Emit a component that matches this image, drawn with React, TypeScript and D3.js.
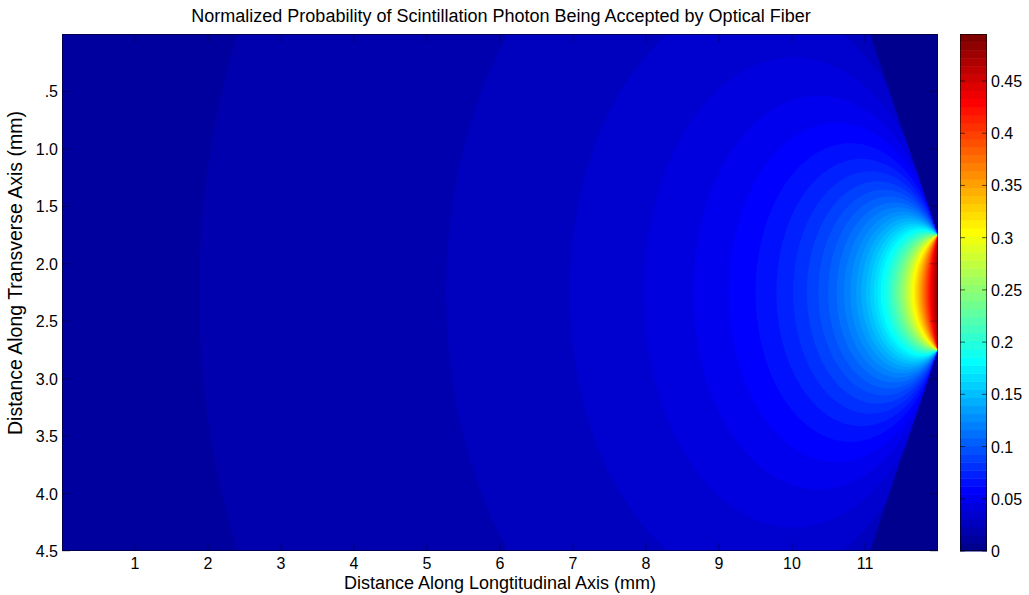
import React, { useMemo } from "react";
import * as d3 from "d3";

// ---- labels and axes ----
const titleText =
  "Normalized Probability of Scintillation Photon Being Accepted by Optical Fiber";
const xLabelText = "Distance Along Longtitudinal Axis (mm)";
const yLabelText = "Distance Along Transverse Axis (mm)";

const xDomain = [0, 12];
const yDomain = [0, 4.5];
const xTicks = [1, 2, 3, 4, 5, 6, 7, 8, 9, 10, 11];
const yTicks = [0.5, 1.0, 1.5, 2.0, 2.5, 3.0, 3.5, 4.0, 4.5];
const yTickLabels = [".5", "1.0", "1.5", "2.0", "2.5", "3.0", "3.5", "4.0", "4.5"];
const colorTicks = [0, 0.05, 0.1, 0.15, 0.2, 0.25, 0.3, 0.35, 0.4, 0.45];
const colorTickLabels = ["0", "0.05", "0.1", "0.15", "0.2", "0.25", "0.3", "0.35", "0.4", "0.45"];
const colorRange = [0, 0.495];

// ---- fiber geometry (mm) ----
const fiberX = 12; // fiber face sits on the right edge
const fiberSpan = [1.75, 2.75]; // transverse extent of the fiber core
const acceptanceDeg = 62; // half-angle of the acceptance cone
const levelCount = 64; // filled contour levels / colormap entries

// MATLAB-style jet colormap entry (1-based index)
function jet(i: number, m = levelCount): string {
  const n = m / 4;
  const off = Math.ceil(n / 2) - (m % 4 === 1 ? 1 : 0);
  const u = (k: number) =>
    k < 1 || k > 3 * n - 1 ? 0 : k <= n ? k / n : k <= 2 * n - 1 ? 1 : (3 * n - k) / n;
  const r = u(i - off - n);
  const g = u(i - off);
  const b = u(i - off + n);
  return d3.rgb(r * 255, g * 255, b * 255).formatHex();
}

const plot = { x0: 62, x1: 938, y0: 34, y1: 551 };
const bar = { x0: 960, x1: 987 };
const font = "'Liberation Sans', Arial, Helvetica, sans-serif";

export default function App() {
  const xScale = d3.scaleLinear().domain(xDomain).range([plot.x0, plot.x1]);
  const yScale = d3.scaleLinear().domain(yDomain).range([plot.y0, plot.y1]);
  const cScale = d3.scaleLinear().domain(colorRange).range([plot.y1, plot.y0]);

  const nx = 584;
  const ny = 345;

  const bands = useMemo(() => {
    const values = new Float64Array(nx * ny);
    const tanA = Math.tan((acceptanceDeg * Math.PI) / 180);
    for (let j = 0; j < ny; j++) {
      const y = ((j + 0.5) / ny) * (yDomain[1] - yDomain[0]) + yDomain[0];
      for (let i = 0; i < nx; i++) {
        const x = ((i + 0.5) / nx) * (xDomain[1] - xDomain[0]) + xDomain[0];
        const d = fiberX - x;
        const inside = y >= fiberSpan[0] - d * tanA && y <= fiberSpan[1] + d * tanA;
        // fraction of in-plane emission directions that land on the fiber face
        values[j * nx + i] = inside
          ? (Math.atan2(fiberSpan[1] - y, d) - Math.atan2(fiberSpan[0] - y, d)) / (2 * Math.PI)
          : 0;
      }
    }
    const step = colorRange[1] / (levelCount - 1);
    const thresholds = d3.range(1, levelCount).map((k) => k * step);
    return d3.contours().size([nx, ny]).thresholds(thresholds)(values as any);
  }, []);

  const gridToPx = d3.geoTransform({
    point(this: any, gx: number, gy: number) {
      this.stream.point(
        xScale(xDomain[0] + (gx / nx) * (xDomain[1] - xDomain[0])),
        yScale(yDomain[0] + (gy / ny) * (yDomain[1] - yDomain[0]))
      );
    },
  });
  const path = d3.geoPath(gridToPx);

  const cells = d3.range(levelCount);
  const cellH = (colorRange[1] - colorRange[0]) / levelCount;
  const tickLen = 8;

  return (
    <svg
      width={1029}
      height={595}
      style={{ position: "absolute", left: 0, top: 0, background: "#fff" }}
      fontFamily={font}
    >
      <rect x={0} y={0} width={1029} height={595} fill="#fff" />
      {/* filled contour bands */}
      <rect
        x={plot.x0}
        y={plot.y0}
        width={plot.x1 - plot.x0}
        height={plot.y1 - plot.y0}
        fill={jet(1)}
      />
      {bands.map((b, k) => (
        <path key={k} d={path(b as any) || ""} fill={jet(k + 2)} stroke="none" />
      ))}

      {/* axes box and ticks */}
      <g stroke="#000" strokeWidth={1} fill="none">
        <rect
          x={plot.x0 + 0.5}
          y={plot.y0 + 0.5}
          width={plot.x1 - plot.x0 - 1}
          height={plot.y1 - plot.y0 - 1}
          strokeOpacity={0.5}
        />
        <g strokeOpacity={0.35}>
          {xTicks.map((t) => (
            <g key={t}>
              <line x1={xScale(t)} x2={xScale(t)} y1={plot.y1} y2={plot.y1 - tickLen} />
              <line x1={xScale(t)} x2={xScale(t)} y1={plot.y0} y2={plot.y0 + tickLen} />
            </g>
          ))}
          {yTicks.map((t) => (
            <g key={t}>
              <line x1={plot.x0} x2={plot.x0 + tickLen} y1={yScale(t)} y2={yScale(t)} />
              <line x1={plot.x1} x2={plot.x1 - tickLen} y1={yScale(t)} y2={yScale(t)} />
            </g>
          ))}
        </g>
      </g>

      {/* tick labels */}
      <g fontSize={16} fill="#000">
        {xTicks.map((t) => (
          <text key={t} x={xScale(t)} y={plot.y1 + 18} textAnchor="middle">
            {t}
          </text>
        ))}
        {yTicks.map((t, i) => (
          <text key={t} x={plot.x0 - 4} y={yScale(t) + 6} textAnchor="end">
            {yTickLabels[i]}
          </text>
        ))}
      </g>

      {/* title and axis labels */}
      <text x={501} y={22} textAnchor="middle" fontSize={18}>
        {titleText}
      </text>
      <text x={500} y={589} textAnchor="middle" fontSize={18}>
        {xLabelText}
      </text>
      <text
        transform={`translate(22, 273) rotate(-90)`}
        textAnchor="middle"
        fontSize={19.5}
      >
        {yLabelText}
      </text>

      {/* colorbar */}
      {cells.map((k) => (
        <rect
          key={k}
          x={bar.x0}
          width={bar.x1 - bar.x0}
          y={cScale(colorRange[0] + (k + 1) * cellH)}
          height={cScale(colorRange[0] + k * cellH) - cScale(colorRange[0] + (k + 1) * cellH) + 0.5}
          fill={jet(k + 1)}
        />
      ))}
      <rect
        x={bar.x0 + 0.5}
        y={plot.y0 + 0.5}
        width={bar.x1 - bar.x0 - 1}
        height={plot.y1 - plot.y0 - 1}
        fill="none"
        stroke="#000"
        strokeOpacity={0.6}
      />
      <g stroke="#000" strokeOpacity={0.6}>
        {colorTicks.map((t) => (
          <g key={t}>
            <line x1={bar.x0} x2={bar.x0 + 5} y1={cScale(t)} y2={cScale(t)} />
            <line x1={bar.x1} x2={bar.x1 - 5} y1={cScale(t)} y2={cScale(t)} />
          </g>
        ))}
      </g>
      <g fontSize={16} fill="#000">
        {colorTicks.map((t, i) => (
          <text key={t} x={bar.x1 + 4} y={cScale(t) + 6}>
            {colorTickLabels[i]}
          </text>
        ))}
      </g>
    </svg>
  );
}
